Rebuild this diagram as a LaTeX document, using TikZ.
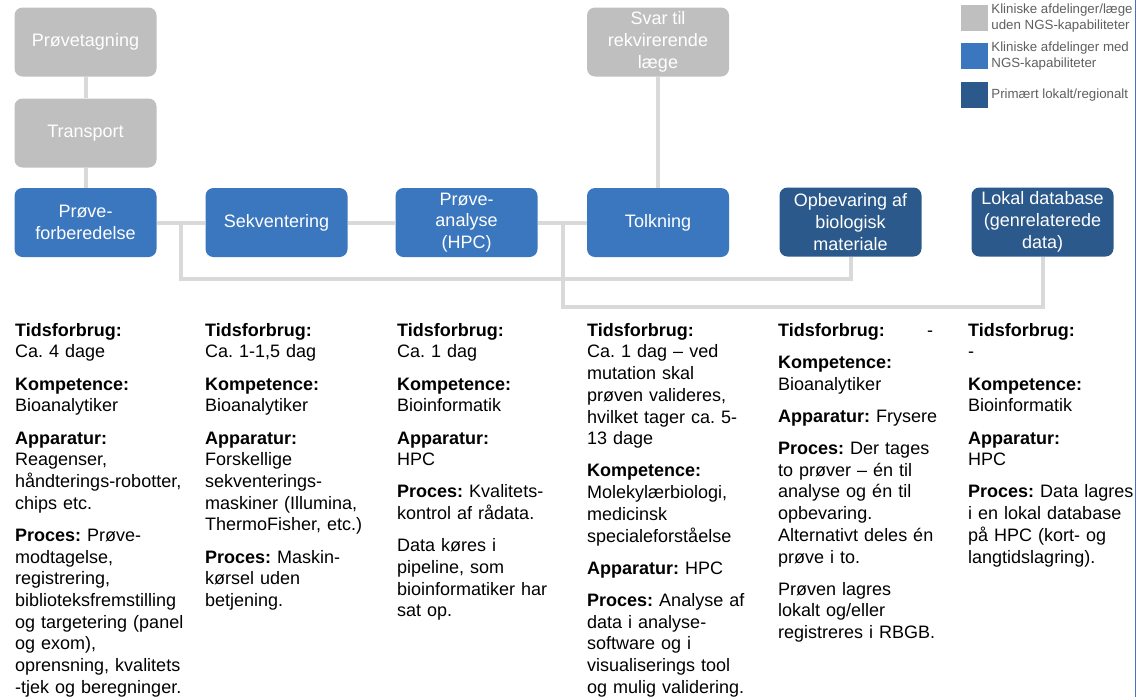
\documentclass[tikz,border=0pt]{standalone}
\usepackage{fontspec}
\setmainfont{Liberation Sans}
\usetikzlibrary{positioning}
\frenchspacing
\definecolor{graa}{RGB}{191,191,191}
\definecolor{blaa}{RGB}{58,119,190}
\definecolor{moerkblaa}{RGB}{43,89,139}
\definecolor{linje}{RGB}{217,217,217}
\definecolor{legendgraa}{RGB}{95,95,95}
\definecolor{rammeblaa}{RGB}{68,114,196}
\tikzstyle{fase}=[rectangle, rounded corners=8pt, fill=blaa, text=white, minimum width=142pt, minimum height=69pt, align=center, inner sep=0pt, font=\fontsize{18}{21.7}\selectfont]
\tikzstyle{ekstern}=[fill=graa]
\tikzstyle{lokal}=[fill=moerkblaa]
\tikzstyle{link}=[draw=linje, line width=4pt]
\tikzstyle{kolonne}=[anchor=north west, align=left, inner sep=0pt, text width=185pt, font=\fontsize{18}{21.7}\selectfont]
\tikzstyle{legfelt}=[rectangle, minimum width=27pt, minimum height=26pt, inner sep=0pt]
\tikzstyle{legtekst}=[align=left, inner sep=0pt, text=legendgraa, font=\fontsize{13.3}{16}\selectfont]
\newcommand{\fase}{\node[fase]}
\newcommand{\felt}[1]{{\bfseries #1}}

\begin{document}
\begin{tikzpicture}[x=1pt, y=-1pt
  ,every edge/.style={link}
]
\useasboundingbox (0,0) rectangle (1142,697);
\fase[ekstern] (pt) at (85.5,42) {Prøvetagning};
\fase[ekstern] (tr) at (85.5,133) {Transport};
\fase (pf) at (85.5,222.5) {Prøve-\\forberedelse};
\fase (sek) at (276.5,222.5) {Sekventering};
\fase (pa) at (466.5,222.5) {Prøve-\\analyse\\(HPC)};
\fase (tolk) at (658,222.5) {Tolkning};
\fase[ekstern] (svar) at (658,42) {Svar til\\rekvirerende\\læge};
\fase[lokal] (opb) at (850.5,222) {Opbevaring af\\biologisk\\materiale};
\fase[lokal] (db) at (1042.5,222) {Lokal database\\(genrelaterede\\data)};
\coordinate (k1) at (181,222.5);
\coordinate (k2) at (563,222.5);
\coordinate (h1) at (181,279);
\coordinate (h2) at (563,307);
\path
(pt) edge (tr)
(tr) edge (pf)
(pf) edge (sek)
(sek) edge (pa)
(pa) edge (tolk)
(tolk) edge (svar)
;
\draw[link] (k1) -- (h1) -| (opb);
\draw[link] (k2) -- (h2) -| (db);

\node[legfelt, fill=graa] (lg1) at (974.5,18) {};
\node[legfelt, fill=blaa] (lg2) at (974.5,56) {};
\node[legfelt, fill=moerkblaa] (lg3) at (974.5,95) {};
\node[legtekst, right=3pt of lg1] (lt1) {Kliniske afdelinger/læge\\uden NGS-kapabiliteter};
\node[legtekst, right=3pt of lg2] (lt2) {Kliniske afdelinger med\\NGS-kapabiliteter};
\node[legtekst, right=3pt of lg3] (lt3) {Primært lokalt/regionalt};

\node[kolonne] (c1) at (15,323) {\felt{Tidsforbrug:}\\Ca. 4 dage\\[10.5pt]\felt{Kompetence:}\\Bioanalytiker\\[10.5pt]\felt{Apparatur:}\\Reagenser,\\håndterings-robotter,\\chips etc.\\[10.5pt]\felt{Proces:} Prøve-\\modtagelse,\\registrering,\\biblioteksfremstilling\\og targetering (panel\\og exom),\\oprensning, kvalitets\\-tjek og beregninger.};
\node[kolonne] (c2) at (205,323) {\felt{Tidsforbrug:}\\Ca. 1-1,5 dag\\[10.5pt]\felt{Kompetence:}\\Bioanalytiker\\[10.5pt]\felt{Apparatur:}\\Forskellige\\sekventerings-\\maskiner (Illumina,\\ThermoFisher, etc.)\\[10.5pt]\felt{Proces:} Maskin-\\kørsel uden\\betjening.};
\node[kolonne] (c3) at (397,323) {\felt{Tidsforbrug:}\\Ca. 1 dag\\[10.5pt]\felt{Kompetence:}\\Bioinformatik\\[10.5pt]\felt{Apparatur:}\\HPC\\[10.5pt]\felt{Proces:} Kvalitets-\\kontrol af rådata.\\[10.5pt]Data køres i\\pipeline, som\\bioinformatiker har\\sat op.};
\node[kolonne] (c4) at (587,323) {\felt{Tidsforbrug:}\\Ca. 1 dag – ved\\mutation skal\\prøven valideres,\\hvilket tager ca. 5-\\13 dage\\[10.5pt]\felt{Kompetence:}\\Molekylærbiologi,\\medicinsk\\specialeforståelse\\[10.5pt]\felt{Apparatur:} HPC\\[10.5pt]\felt{Proces:} Analyse af\\data i analyse-\\software og i\\visualiserings tool\\og mulig validering.};
\node[kolonne] (c5) at (778,323) {\makebox[155pt][l]{\felt{Tidsforbrug:}\hfill-}\\[10.5pt]\felt{Kompetence:}\\Bioanalytiker\\[10.5pt]\felt{Apparatur:} Frysere\\[10.5pt]\felt{Proces:} Der tages\\to prøver – én til\\analyse og én til\\opbevaring.\\Alternativt deles én\\prøve i to.\\[10.5pt]Prøven lagres\\lokalt og/eller\\registreres i RBGB.};
\node[kolonne] (c6) at (968,323) {\felt{Tidsforbrug:}\\-\\[10.5pt]\felt{Kompetence:}\\Bioinformatik\\[10.5pt]\felt{Apparatur:}\\HPC\\[10.5pt]\felt{Proces:} Data lagres\\i en lokal database\\på HPC (kort- og\\langtidslagring).};

\draw[draw=rammeblaa, line width=1pt] (1135.5,0) -- (1135.5,697);
\end{tikzpicture}
\end{document}
